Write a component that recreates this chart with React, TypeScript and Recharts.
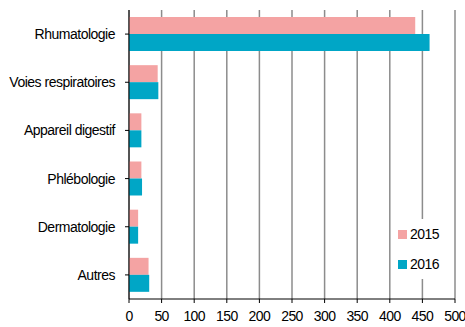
import React from "react";
import {
  Bar,
  BarChart,
  CartesianGrid,
  XAxis,
  YAxis,
} from "recharts";

const categories = [
  "Rhumatologie",
  "Voies respiratoires",
  "Appareil digestif",
  "Phlébologie",
  "Dermatologie",
  "Autres",
];
const values2015 = [439, 44, 19, 19, 14, 30];
const values2016 = [461, 45, 19, 20, 14, 31];
const xTicks = [0, 50, 100, 150, 200, 250, 300, 350, 400, 450, 500];
const seriesNames = ["2015", "2016"];

const PINK = "#f4a3a3";
const TEAL = "#00a6c6";
const FONT = "'Liberation Sans', Arial, sans-serif";

const data = categories.map((name, i) => ({
  name,
  y2015: values2015[i],
  y2016: values2016[i],
}));

function LegendBox() {
  const colors = [PINK, TEAL];
  return (
    <div
      style={{
        position: "absolute",
        left: 398,
        top: 219,
        width: 50,
        background: "#fff",
        padding: "3px 0",
      }}
    >
      {seriesNames.map((label, i) => (
        <div
          key={label}
          style={{
            display: "flex",
            alignItems: "center",
            height: 24,
            marginTop: i === 0 ? 0 : 6,
            fontFamily: FONT,
            fontSize: 14,
            letterSpacing: -0.5,
            color: "#000",
          }}
        >
          <span
            style={{
              width: 9,
              height: 9,
              background: colors[i],
              marginRight: 3,
              display: "inline-block",
            }}
          />
          {label}
        </div>
      ))}
    </div>
  );
}

export default function App() {
  return (
    <div style={{ position: "absolute", left: 0, top: 0, background: "#fff" }}>
      <BarChart
        width={465}
        height={327}
        data={data}
        layout="vertical"
        margin={{ top: 10, right: 10, left: 0, bottom: 0 }}
        barGap={0}
        barSize={17}
      >
        <CartesianGrid horizontal={false} stroke="#8c8c8c" strokeWidth={1.5} />
        <XAxis
          type="number"
          domain={[0, 500]}
          ticks={xTicks}
          interval={0}
          height={28}
          stroke="#000"
          tickSize={4}
          tickMargin={8}
          tick={{ fill: "#000", fontSize: 14, fontFamily: FONT, letterSpacing: -0.6 }}
        />
        <YAxis
          type="category"
          dataKey="name"
          width={129}
          stroke="#000"
          tickSize={4}
          tickMargin={10}
          tick={{ fill: "#000", fontSize: 14, fontFamily: FONT, letterSpacing: -0.5 }}
        />
        <Bar dataKey="y2015" name="2015" fill={PINK} isAnimationActive={false} />
        <Bar dataKey="y2016" name="2016" fill={TEAL} isAnimationActive={false} />
      </BarChart>
      <LegendBox />
    </div>
  );
}
